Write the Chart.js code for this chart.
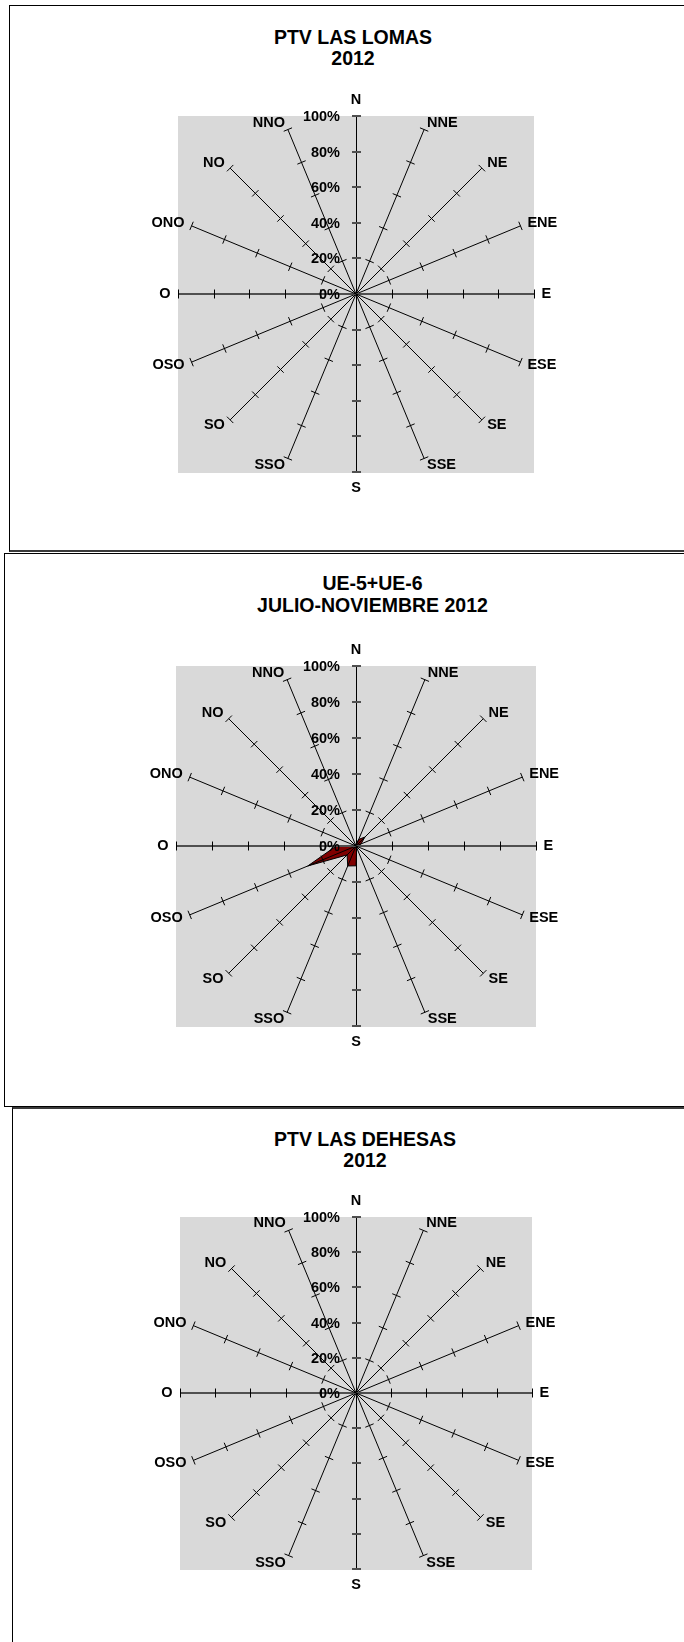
<!DOCTYPE html>
<html><head><meta charset="utf-8">
<script src="https://cdn.jsdelivr.net/npm/chart.js@4/dist/chart.umd.min.js"></script>
<style>
html,body{margin:0;padding:0;background:#fff;}
body{position:relative;width:684px;height:1642px;overflow:hidden;font-family:"Liberation Sans",Arial,sans-serif;}
.panel{position:absolute;box-sizing:border-box;border:1px solid #000;background:#fff;}
.ttl{position:absolute;width:420px;text-align:center;font-weight:bold;font-size:19.5px;line-height:22px;height:22px;white-space:nowrap;color:#000;}
canvas{position:absolute;left:0;}
</style></head><body>
<div class="panel" style="left:9px;top:5px;width:720px;height:547px;border-bottom:2px solid #3a3a3a"></div>
<div class="panel" style="left:4px;top:553px;width:720px;height:554px;"></div>
<div class="panel" style="left:12px;top:1107px;width:720px;height:600px;border-top:2px solid #3a3a3a"></div>

<div class="ttl" style="left:143px;top:25.7px">PTV LAS LOMAS</div>
<div class="ttl" style="left:143px;top:47.3px">2012</div>
<div class="ttl" style="left:162.5px;top:571.9px">UE-5+UE-6</div>
<div class="ttl" style="left:162.5px;top:594.4px">JULIO-NOVIEMBRE 2012</div>
<div class="ttl" style="left:155px;top:1128.3px">PTV LAS DEHESAS</div>
<div class="ttl" style="left:155px;top:1149.4px">2012</div>

<canvas id="c1" width="684" height="552" style="top:0px;width:684px;height:552px"></canvas>
<canvas id="c2" width="684" height="554" style="top:553px;width:684px;height:554px"></canvas>
<canvas id="c3" width="684" height="534" style="top:1108px;width:684px;height:534px"></canvas>

<script>
// ---- data ----
const directions = ['N','NNE','NE','ENE','E','ESE','SE','SSE','S','SSO','SO','OSO','O','ONO','NO','NNO'];
const tickValues = [0, 20, 40, 60, 80, 100];
const tickLabels = ['0%', '20%', '40%', '60%', '80%', '100%'];
const lomas2012      = [0,0,0,0,0,0,0,0,0,0,0,0,0,0,0,0];
const ue56JulNov2012 = [1,4,7,3,1,0.5,0.5,1,11,12,7,29,11,1,0.5,0.5];
const dehesas2012    = [0,0,0,0,0,0,0,0,0,0,0,0,0,0,0,0];

const FONT = '"Liberation Sans", Arial, sans-serif';

const windrose = {
  id: 'windrose',
  beforeDraw(chart) {
    const s = chart.scales.r, ctx = chart.ctx, R = s.drawingArea;
    ctx.save();
    ctx.fillStyle = '#d9d9d9';
    ctx.fillRect(s.xCenter - R, s.yCenter - R, 2 * R, 2 * R + 1);
    ctx.restore();
  },
  afterDatasetsDraw(chart) {
    const s = chart.scales.r, ctx = chart.ctx;
    const cx = s.xCenter, cy = s.yCenter, R = s.drawingArea;
    const n = chart.data.labels.length;
    ctx.save();
    ctx.lineCap = 'butt';
    for (let i = 0; i < n; i++) {
      const p = s.getPointPositionForValue(i, s.max);
      const dx = p.x - cx, dy = p.y - cy, len = Math.hypot(dx, dy);
      const ux = dx / len, uy = dy / len;
      const vertical = Math.abs(ux) < 1e-6, horizontal = Math.abs(uy) < 1e-6;
      ctx.beginPath();
      if (vertical) {
        ctx.lineWidth = 1; ctx.strokeStyle = '#000';
        ctx.moveTo(cx + 0.5, cy); ctx.lineTo(cx + 0.5, Math.round(p.y));
      } else if (horizontal) {
        ctx.lineWidth = 2; ctx.strokeStyle = '#505050';
        ctx.moveTo(cx, cy); ctx.lineTo(Math.round(p.x), cy);
      } else {
        ctx.lineWidth = 1; ctx.strokeStyle = '#000';
        ctx.moveTo(cx, cy); ctx.lineTo(p.x, p.y);
      }
      ctx.stroke();
      // tick marks across the spoke
      for (const v of tickValues) {
        if (v <= s.min) continue;
        const q = s.getPointPositionForValue(i, v);
        ctx.beginPath();
        if (vertical) {
          ctx.lineWidth = 2; ctx.strokeStyle = '#505050';
          const y = Math.round(q.y);
          ctx.moveTo(cx - 4, y); ctx.lineTo(cx + 5, y);
        } else if (horizontal) {
          ctx.lineWidth = 1; ctx.strokeStyle = '#000';
          const x = Math.round(q.x) + 0.5;
          ctx.moveTo(x, cy - 4.5); ctx.lineTo(x, cy + 4.5);
        } else {
          ctx.lineWidth = 1; ctx.strokeStyle = '#000';
          const nx = -uy, ny = ux;
          ctx.moveTo(q.x - 4.5 * nx, q.y - 4.5 * ny);
          ctx.lineTo(q.x + 4.5 * nx, q.y + 4.5 * ny);
        }
        ctx.stroke();
      }
    }
    // value labels along N axis
    ctx.fillStyle = '#000';
    ctx.font = 'bold 14.5px ' + FONT;
    ctx.textAlign = 'right';
    ctx.textBaseline = 'middle';
    tickValues.forEach((v, k) => {
      const d = s.getDistanceFromCenterForValue(v);
      ctx.fillText(tickLabels[k], cx - 16, cy - d + 1);
    });
    // direction labels
    for (let i = 0; i < n; i++) {
      const a = s.getIndexAngle(i);
      const sn = Math.sin(a), cs = Math.cos(a);
      let dist = R + 7.5, align;
      if (Math.abs(sn) < 1e-6) { align = 'center'; dist = R + 16; }
      else align = sn > 0 ? 'left' : 'right';
      const pos = s.getPointPosition(i, dist);
      ctx.textAlign = align;
      ctx.textBaseline = 'middle';
      ctx.fillText(chart.data.labels[i], pos.x, pos.y);
    }
    ctx.restore();
  }
};

function makeRose(id, values, pad) {
  return new Chart(document.getElementById(id), {
    type: 'radar',
    data: {
      labels: directions,
      datasets: [{
        data: values,
        backgroundColor: '#800000',
        borderColor: '#000000',
        borderWidth: 1,
        pointRadius: 0,
        pointHoverRadius: 0,
        fill: 'start',
        tension: 0
      }]
    },
    options: {
      responsive: false,
      animation: false,
      devicePixelRatio: 1,
      layout: { padding: pad },
      plugins: { legend: { display: false }, title: { display: false }, tooltip: { enabled: false } },
      scales: {
        r: {
          min: 0, max: 100,
          ticks: { display: false, stepSize: 20 },
          grid: { display: false },
          angleLines: { display: false },
          pointLabels: { display: false }
        }
      }
    },
    plugins: [windrose]
  });
}

// canvas 1: page y 0, center (356,294), R 178
makeRose('c1', lomas2012,      { left: 178, right: 150, top: 116, bottom: 80 });
// canvas 2: page y 553, center (356,846), R 180
makeRose('c2', ue56JulNov2012, { left: 176, right: 148, top: 113, bottom: 81 });
// canvas 3: page y 1108, center (356,1393), R 176
makeRose('c3', dehesas2012,    { left: 180, right: 152, top: 109, bottom: 73 });
</script>
</body></html>
